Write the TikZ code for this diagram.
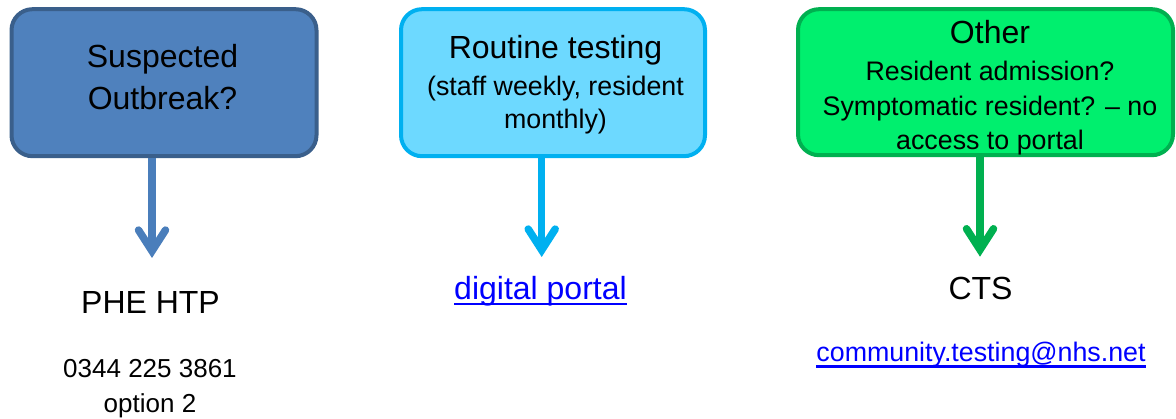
\documentclass[tikz,border=0pt]{standalone}
\usepackage{fontspec}
\setmainfont{Liberation Sans}
\usetikzlibrary{arrows.meta,calc}
\definecolor{bluefill}{HTML}{4F81BD}
\definecolor{blueedge}{HTML}{3A5F8B}
\definecolor{bluearrow}{HTML}{4A7EBB}
\definecolor{cyanfill}{HTML}{6DD9FF}
\definecolor{cyanedge}{HTML}{00B0F0}
\definecolor{greenfill}{HTML}{00EF6E}
\definecolor{greenedge}{HTML}{00B050}
\definecolor{linkblue}{HTML}{0000FF}
\newcommand{\ulink}[3]{\setbox0\hbox{#1}\rlap{\color{linkblue}\rule[#2]{\wd0}{#3}}\box0}
\tikzset{
  box/.style={draw, rounded corners=21pt, line width=4pt, inner sep=0pt},
  txt/.style={inner sep=0pt, align=center, text=black},
  big/.style={font=\fontsize{32}{37}\selectfont},
  arr/.style={line width=7.5pt, -{Straight Barb[length=21pt,width=27pt,line join=miter,line cap=round]}},
}
\begin{document}
\begin{tikzpicture}[x=1pt,y=-1pt]
\useasboundingbox (0,0) rectangle (1176,419);
% boxes
\node[box, fill=bluefill, draw=blueedge, minimum width=305pt, minimum height=147pt] (b1) at (164,82.7) {};
\node[box, fill=cyanfill, draw=cyanedge, minimum width=304pt, minimum height=147pt] (b2) at (553,82.7) {};
\node[box, fill=greenfill, draw=greenedge, minimum width=375pt, minimum height=146pt] (b3) at (985.5,82.2) {};
% box texts
\node[txt, anchor=north, font=\fontsize{32}{42}\selectfont] (s1) at (162.5,43.7) {Suspected\\Outbreak?};
\node[txt, anchor=north, font=\fontsize{26.8}{33.3}\selectfont] (s2) at (555.5,35)
  {{\fontsize{32}{37}\selectfont Routine testing}\\[3.4pt](staff weekly, resident\\monthly)};
\node[txt, anchor=north, font=\fontsize{26.8}{34.3}\selectfont] (s3) at (990,19.7)
  {{\fontsize{32}{37}\selectfont Other}\\[3.4pt]Resident admission?\\Symptomatic resident? – no\\access to portal};
% tips
\coordinate (t1) at (152,258);
\coordinate (t2) at (541.7,257);
\coordinate (t3) at (980,256.7);
\draw[arr, bluearrow] (t1 |- b1.south) -- (t1);
\draw[arr, cyanedge] (t2 |- b2.south) -- (t2);
\draw[arr, greenedge] (t3 |- b3.south) -- (t3);
% lower texts
\node[txt, big, anchor=base] (r1) at (150.5,313.3) {PHE HTP};
\node[txt, anchor=north, font=\fontsize{26}{35}\selectfont] (p1) at (150,359.5) {0344 225 3861\\option 2};
\node[txt, big, anchor=base, text=linkblue] (r2) at (540.5,300) {\ulink{digital portal}{-5.3pt}{2.6pt}};
\node[txt, big, anchor=base] (r3) at (980.5,299.3) {CTS};
\node[txt, anchor=base, font=\fontsize{26.8}{32}\selectfont, text=linkblue] (e3) at (981,361.7) {\ulink{community.testing@nhs.net}{-6pt}{2.2pt}};
\end{tikzpicture}
\end{document}
